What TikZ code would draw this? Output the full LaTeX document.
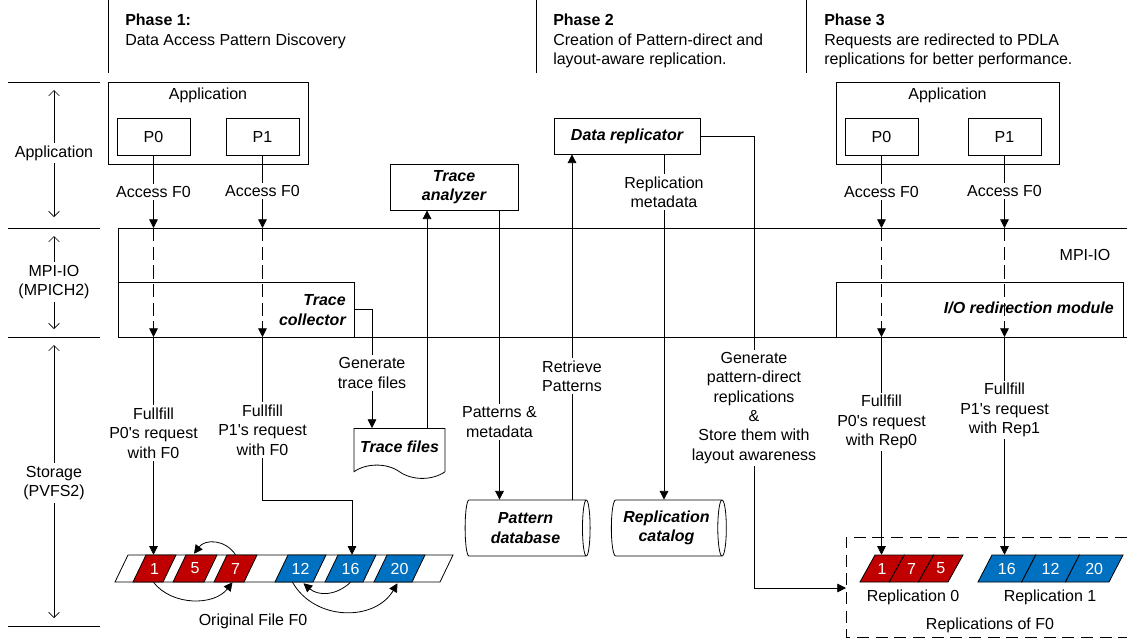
\documentclass[tikz,border=0pt]{standalone}
\usepackage{fontspec}
\setmainfont{Liberation Sans}
\usetikzlibrary{shapes.geometric,shapes.symbols,arrows.meta,calc}
\definecolor{cred}{HTML}{C00000}
\definecolor{cblue}{HTML}{0070C0}
\newcommand{\pcell}[6]{%
  \filldraw[fill=#5,draw=black,line width=0.6pt] (#2,582) -- ({#2+#3},582) -- ({#2+#3+#4},555) -- ({#2+#4},555) -- cycle;
  \node[celltext] (#1) at ({#2+#3/2+#4/2},568.5) {#6};}
\begin{document}
\begin{tikzpicture}[x=0.75pt,y=-0.75pt,
  every node/.style={font=\fontsize{12}{14.5}\selectfont},
  ln/.style={line width=0.6pt},
  box/.style={draw, line width=0.6pt, inner sep=0pt},
  sz/.style 2 args={minimum width=#1*0.75pt, minimum height=#2*0.75pt},
  bi/.style={font=\fontsize{12}{14.5}\selectfont\bfseries\itshape},
  lbl/.style={fill=white, align=center, inner sep=2pt},
  arr/.style={line width=0.6pt, -{Triangle[length=6.5pt,width=6.5pt]}},
  dbl/.style={line width=0.5pt, {Straight Barb[length=4pt,width=8pt]}-{Straight Barb[length=4pt,width=8pt]}},
  celltext/.style={text=white, minimum height=27*0.75pt, inner sep=0pt},
  dsh/.style={dash pattern=on 10pt off 4pt},
  dshbox/.style={dash pattern=on 9pt off 5pt}]
\useasboundingbox (0,0) rectangle (1127,640);

% phase separators and headings
\draw[ln] (108,0) -- (108,73);
\draw[ln] (536,0) -- (536,73);
\draw[ln] (806,0) -- (806,73);
\node[anchor=base west, inner sep=0pt, font=\fontsize{12}{14.5}\selectfont\bfseries] (ph1) at (125,25.5) {Phase 1:};
\node[anchor=base west, inner sep=0pt] (ph1b) at (125,45) {Data Access Pattern Discovery};
\node[anchor=base west, inner sep=0pt, font=\fontsize{12}{14.5}\selectfont\bfseries] (ph2) at (553,25.5) {Phase 2};
\node[anchor=base west, inner sep=0pt] (ph2b) at (553,45) {Creation of Pattern-direct and};
\node[anchor=base west, inner sep=0pt] (ph2c) at (553,64.5) {layout-aware replication.};
\node[anchor=base west, inner sep=0pt, font=\fontsize{12}{14.5}\selectfont\bfseries] (ph3) at (824,25.5) {Phase 3};
\node[anchor=base west, inner sep=0pt] (ph3b) at (824,45) {Requests are redirected to PDLA};
\node[anchor=base west, inner sep=0pt] (ph3c) at (824,64.5) {replications for better performance.};

% layer separators on the left
\draw[ln] (8,82) -- (100,82);
\draw[ln] (8,228) -- (100,228);
\draw[ln] (8,337) -- (100,337);
\draw[ln] (8,626) -- (100,626);
\coordinate (la1) at (54,90); \coordinate (la2) at (54,217);
\coordinate (lm1) at (54,236); \coordinate (lm2) at (54,329);
\coordinate (ls1) at (54,345); \coordinate (ls2) at (54,618);
\draw[dbl] (la1) -- (la2);
\draw[dbl] (lm1) -- (lm2);
\draw[dbl] (ls1) -- (ls2);
\node[lbl] (lapp) at (54,153) {Application};
\node[lbl] (lmpi) at (54,282) {MPI-IO\\(MPICH2)};
\node[lbl] (lsto) at (54,483) {Storage\\(PVFS2)};

% MPI-IO layer
\coordinate (mpitop) at (0,228);
\coordinate (mpibot) at (0,337);
\draw[ln] (1127,228) -- (118,228) -- (118,337) -- (1127,337);
\node (mpil) at (1085,255) {MPI-IO};
\node[box, sz={236}{55}] (tc) at (236,309.5) {};
\node[bi, anchor=east, align=right, inner sep=0pt] (tcl) at (346,310) {Trace\\collector};
\node[box, sz={287}{55}] (io) at (979.5,309.5) {};
\node[bi, anchor=east, inner sep=0pt] (iol) at (1114,308) {I/O redirection module};

% Phase 1 application
\node[box, sz={200}{82}] (app1) at (208,123) {};
\node (app1l) at (208,95) {Application};
\node[box, sz={73}{37}] (p0a) at (153.5,136.5) {P0};
\node[box, sz={73}{37}] (p1a) at (262.5,136.5) {P1};

% Phase 3 application
\node[box, sz={223}{82}] (app3) at (947.5,123) {};
\node (app3l) at (947.5,95) {Application};
\node[box, sz={73}{37}] (p0c) at (881.5,136.5) {P0};
\node[box, sz={73}{37}] (p1c) at (1004.5,136.5) {P1};

% Phase 2 components
\node[box, bi, sz={128}{46}, align=center] (ta) at (454,187) {Trace\\analyzer};
\node[box, bi, sz={146}{36}] (dr) at (627,136) {Data replicator};
\node[tape, draw, ln, tape bend top=none, tape bend bottom=out and in, tape bend height=10pt,
      minimum width=91*0.75pt, minimum height=50*0.75pt, anchor=north, inner sep=0pt] (tf) at (399.5,428) {};
\node[bi] (tfl) at (399.5,447) {Trace files};
\node[cylinder, draw, ln, shape border rotate=0, aspect=0.25, minimum height=125*0.75pt,
      minimum width=56*0.75pt, inner sep=0pt, bi, align=center] (pdb) at (525.5,528) {Pattern\\database};
\node[cylinder, draw, ln, shape border rotate=0, aspect=0.25, minimum height=115*0.75pt,
      minimum width=56*0.75pt, inner sep=0pt, bi, align=center] (rc) at (666.5,528) {Replication\\catalog};

% Original file F0
\filldraw[fill=white, ln] (115,582) -- (440,582) -- (453,555) -- (128,555) -- cycle;
\pcell{f1}{133}{30}{13}{cred}{1}
\pcell{f5}{173}{31}{13}{cred}{5}
\pcell{f7}{214}{30}{13}{cred}{7}
\pcell{f12}{275}{38}{13}{cblue}{12}
\pcell{f16}{325}{38}{13}{cblue}{16}
\pcell{f20}{374}{38}{13}{cblue}{20}
\node (f0l) at (253,621) {Original File F0};

% Replications
\draw[ln, dshbox] (1127,537) -- (846,537) -- (846,637) -- (1127,637);
\coordinate (repin) at (846,588);
\pcell{r1}{860}{29.3}{15}{cred}{1}
\pcell{r7}{889.3}{29.3}{15}{cred}{7}
\pcell{r5}{918.6}{29.4}{15}{cred}{5}
\pcell{b16}{978}{43.7}{14}{cblue}{16}
\pcell{b12}{1021.7}{43.7}{14}{cblue}{12}
\pcell{b20}{1065.4}{43.6}{14}{cblue}{20}
\node (rep0l) at (913,597) {Replication 0};
\node (rep1l) at (1050,597) {Replication 1};
\node (repl) at (990,625) {Replications of F0};

% curved arrows in F0
\draw[arr] (f7.north) .. controls (225,539) and (205,539) .. ($(f5.north)+(-1,-1)$);
\draw[arr] ($(f1.south)+(-1,0)$) .. controls (172,606) and (214,606) .. ($(f7.south)+(-3,0)$);
\draw[arr] (f16.south) .. controls (336,596) and (318,596) .. ($(f12.south)+(3,1)$);
\draw[arr] ($(f12.south)+(-8,0)$) .. controls (315,621.5) and (375,621.5) .. ($(f20.south)+(-2,1)$);

% Phase 1 connectors
\draw[arr] (p0a.south) -- (p0a.south |- mpitop);
\draw[arr, dsh] (p0a.south |- mpitop) -- (p0a.south |- mpibot);
\draw[arr] (p0a.south |- mpibot) -- (p0a.south |- f1.north);
\draw[arr] (p1a.south) -- (p1a.south |- mpitop);
\draw[arr, dsh] (p1a.south |- mpitop) -- (p1a.south |- mpibot);
\coordinate (k16a) at (262.5,500);
\coordinate (k16b) at (352,500);
\draw[arr] (p1a.south |- mpibot) -- (k16a) -- (k16b) -- (k16b |- f16.north);
\coordinate (gx) at (372,309.5);
\draw[arr] (tc.east |- gx) -- (gx) -- (gx |- tf.north);
\coordinate (tx) at (427,0);
\draw[arr] (tf.north -| tx) -- (ta.south -| tx);
\coordinate (px) at (499.5,0);
\draw[arr] (ta.south -| px) -- (pdb.north -| px);
\coordinate (rx) at (572,0);
\draw[arr] (pdb.north -| rx) -- (dr.south -| rx);
\coordinate (mx) at (664,0);
\draw[arr] (dr.south -| mx) -- (rc.north -| mx);
\coordinate (gk) at (754,136);
\draw[arr] (dr.east) -- (gk) -- (gk |- repin) -- (repin);

% Phase 3 connectors
\draw[arr] (p0c.south) -- (p0c.south |- mpitop);
\draw[arr, dsh] (p0c.south |- mpitop) -- (p0c.south |- mpibot);
\draw[arr] (p0c.south |- mpibot) -- (p0c.south |- r1.north);
\draw[arr] (p1c.south) -- (p1c.south |- mpitop);
\draw[arr, dsh] (p1c.south |- mpitop) -- (p1c.south |- mpibot);
\draw[arr] (p1c.south |- mpibot) -- (p1c.south |- b16.north);

% connector labels
\node[lbl] (acc0a) at (153.5,192) {Access F0};
\node[lbl] (acc1a) at (262.5,191) {Access F0};
\node[lbl] (acc0c) at (881.5,192) {Access F0};
\node[lbl] (acc1c) at (1004.5,191) {Access F0};
\node[lbl] (ful0a) at (153.5,433) {Fullfill\\P0\textquotesingle s request\\with F0};
\node[lbl] (ful1a) at (262.5,430) {Fullfill\\P1\textquotesingle s request\\with F0};
\node[lbl] (ful0c) at (881.5,422) {Fullfill\\P0\textquotesingle s request\\with Rep0};
\node[lbl] (ful1c) at (1004.5,410) {Fullfill\\P1\textquotesingle s request\\with Rep1};
\node[lbl] (gtf) at (372,373) {Generate\\trace files};
\node[lbl] (pm) at (499.5,422) {Patterns \&\\metadata};
\node[lbl] (rp) at (572,376) {Retrieve\\Patterns};
\node[lbl] (rm) at (664,192) {Replication\\metadata};
\node[lbl] (gp) at (754,408) {Generate\\pattern-direct\\replications\\\&\\Store them with\\layout awareness};
\end{tikzpicture}
\end{document}
